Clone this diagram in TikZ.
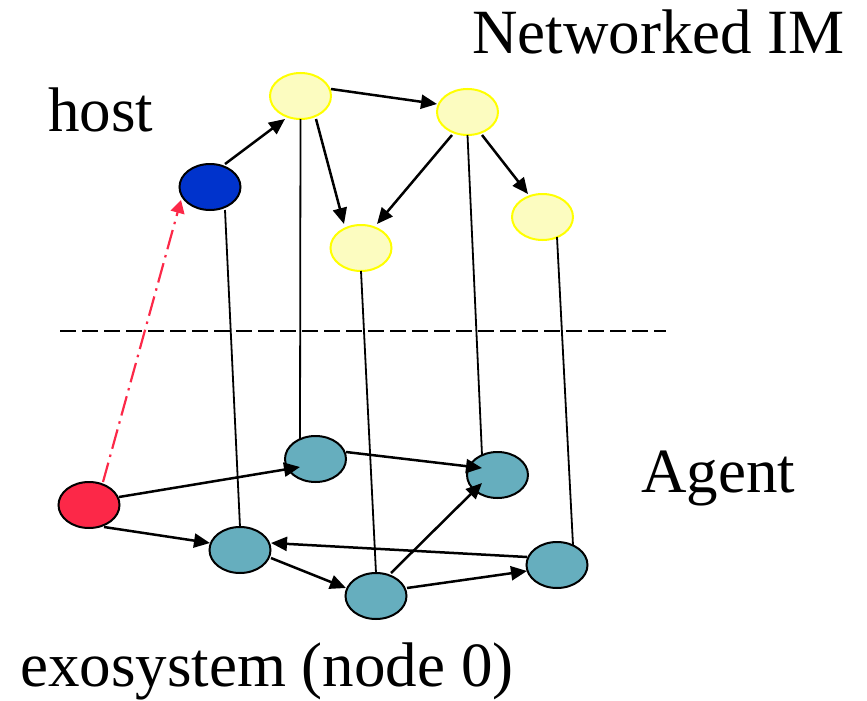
\documentclass[tikz,border=0pt]{standalone}
\usepackage{fontspec}
\setmainfont{Liberation Serif}
\usetikzlibrary{arrows.meta}
\definecolor{yfill}{RGB}{252,252,192}
\definecolor{yline}{RGB}{255,255,0}
\definecolor{hostblue}{RGB}{0,51,204}
\definecolor{exored}{RGB}{252,40,72}
\definecolor{agentteal}{RGB}{102,174,190}
\tikzset{
  nd/.style={ellipse, minimum width=61pt, minimum height=46pt, inner sep=0pt, line width=2pt},
  imnode/.style={nd, draw=yline, fill=yfill},
  hostnode/.style={nd, draw=black, fill=hostblue},
  exonode/.style={nd, draw=black, fill=exored},
  agnode/.style={nd, draw=black, fill=agentteal},
  arr/.style={line width=2.5pt, -{Triangle[length=16pt,width=14pt]}},
  vline/.style={line width=1.8pt},
  lbl/.style={inner sep=0pt, anchor=base west, font=\fontsize{63}{70}\selectfont},
  redarr/.style={draw=exored, line width=2.2pt, dash pattern=on 20pt off 6pt on 2.5pt off 6pt, -{Triangle[length=13pt,width=14pt]}},
  sep/.style={line width=2.2pt, dash pattern=on 16pt off 6pt}
}
\usetikzlibrary{shapes.geometric}
\begin{document}
\begin{tikzpicture}[x=1pt,y=-1pt]
\useasboundingbox (0,0) rectangle (867,701);
% nodes
\node[imnode] (Y1) at (300.5,96) {};
\node[imnode] (Y2) at (467.5,112) {};
\node[imnode] (Y3) at (542.5,217) {};
\node[imnode] (Y4) at (361,248) {};
\node[hostnode] (B) at (210,187) {};
\node[exonode] (R) at (89,505) {};
\node[agnode] (T1) at (315.5,459) {};
\node[agnode] (T2) at (497.5,475) {};
\node[agnode] (T3) at (240,550) {};
\node[agnode] (T4) at (376,596) {};
\node[agnode] (T5) at (557,565) {};
% labels
\node[lbl] (lnet) at (472,53) {Networked IM};
\node[lbl] (lhost) at (48,131) {host};
\node[lbl] (lagent) at (641,492) {Agent};
\node[lbl] (lexo) at (20,686) {exosystem (node 0)};
% separator
\coordinate (dl) at (60,331);
\coordinate (dr) at (666,331);
\draw[sep] (dl) -- (dr);
% vertical links
\draw[vline] ([shift={(15,23)}]B.center) -- ([shift={(0,-23)}]T3.center);
\draw[vline] ([shift={(0,23)}]Y1.center) -- ([shift={(-15.5,-20)}]T1.center);
\draw[vline] ([shift={(0,23)}]Y4.center) -- ([shift={(0,-23)}]T4.center);
\draw[vline] ([shift={(0,23)}]Y2.center) -- ([shift={(-15.5,-20)}]T2.center);
\draw[vline] ([shift={(14.5,20)}]Y3.center) -- ([shift={(16,-20)}]T5.center);
% upper arrows
\draw[arr] ([shift={(15,-23)}]B.center) -- ([shift={(-15.5,23)}]Y1.center);
\draw[arr] ([shift={(30.5,-7)}]Y1.center) -- ([shift={(-30.5,-8)}]Y2.center);
\draw[arr] ([shift={(15.5,23)}]Y1.center) -- ([shift={(-17,-24)}]Y4.center);
\draw[arr] ([shift={(-15.5,23)}]Y2.center) -- ([shift={(16,-24)}]Y4.center);
\draw[arr] ([shift={(14.5,23)}]Y2.center) -- ([shift={(-14.5,-23)}]Y3.center);
% lower arrows
\draw[arr] ([shift={(30,-8)}]R.center) -- ([shift={(-15.5,8)}]T1.center);
\draw[arr] ([shift={(15,22)}]R.center) -- ([shift={(-30,-7)}]T3.center);
\draw[arr] ([shift={(-30,-8)}]T5.center) -- ([shift={(31,-7)}]T3.center);
\draw[arr] ([shift={(31,8)}]T3.center) -- ([shift={(-30,-8)}]T4.center);
\draw[arr] ([shift={(30.5,-7)}]T1.center) -- ([shift={(-15.5,-7)}]T2.center);
\draw[arr] ([shift={(15,-23)}]T4.center) -- ([shift={(-15.5,8)}]T2.center);
\draw[arr] ([shift={(31,-8)}]T4.center) -- ([shift={(-30,6)}]T5.center);
% exosystem to host
\draw[redarr] ([shift={(14,-23)}]R.center) -- ([shift={(-29,13)}]B.center);
\end{tikzpicture}
\end{document}
